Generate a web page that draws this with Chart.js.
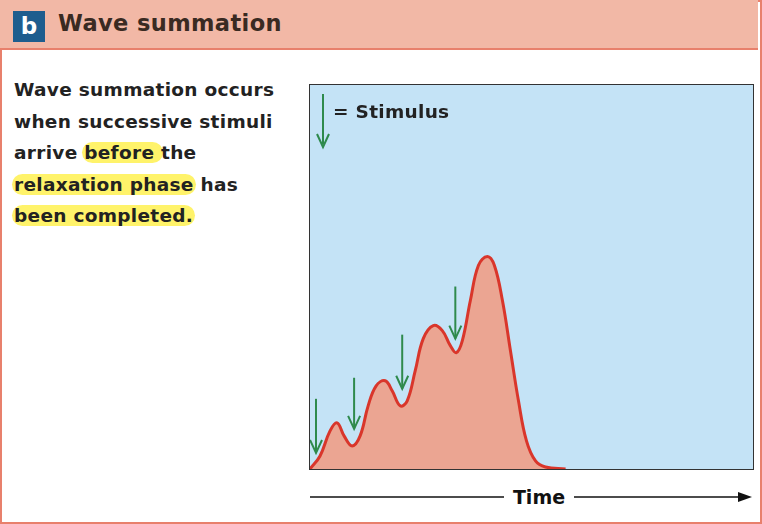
<!DOCTYPE html>
<html lang="en">
<head>
<meta charset="UTF-8">
<title>Wave summation</title>
<script src="https://cdn.jsdelivr.net/npm/chart.js"></script>
<style>
  body { margin:0; width:762px; height:524px; overflow:hidden; background:#fff; font-family:"DejaVu Sans", Arial, sans-serif; }
  .frame { position:absolute; left:0; top:0; width:758px; height:520px; border:2px solid #e8806c; }
  .head { position:absolute; left:0; top:0; width:758px; height:48px; background:#f2b8a6; border-bottom:2px solid #e8806c; }
  .badge { position:absolute; left:13px; top:11px; width:32px; height:31px; background:#1e5d8e; color:#fff; font-weight:bold; font-size:23px; text-align:center; line-height:30px; }
  .title { position:absolute; left:58px; top:10px; font-weight:bold; font-size:22.5px; letter-spacing:0.4px; color:#3a2a22; }
  .text { position:absolute; left:14px; top:74px; font-weight:bold; font-size:18.5px; letter-spacing:0.3px; line-height:31.5px; color:#222; white-space:nowrap; }
  .hl { background:#fff36a; border-radius:12px; padding:0 2px; margin:0 -2px; }
  .plot { position:absolute; left:309px; top:84px; width:443px; height:384px; background:#c4e3f6; border:1.5px solid #333; }
  .legend { position:absolute; left:333px; top:101px; font-weight:bold; font-size:18.5px; letter-spacing:0.3px; color:#222; }
  .time { position:absolute; left:310px; top:484px; width:446px; height:26px; }
</style>
</head>
<body>
<div class="frame"></div>
<div class="head"><div class="badge">b</div><div class="title">Wave summation</div></div>
<div class="text">
  Wave summation occurs<br>
  when successive stimuli<br>
  arrive <span class="hl">before </span>the<br>
  <span class="hl">relaxation phase</span> has<br>
  <span class="hl">been completed.</span>
</div>
<div class="plot"><canvas id="chartOnda"></canvas></div>
<svg style="position:absolute;left:316px;top:94px" width="16" height="56">
  <line x1="7" y1="0" x2="7" y2="50" stroke="#2e8a4c" stroke-width="2"/>
  <path d="M1 40 L7 53 L13 40" fill="none" stroke="#2e8a4c" stroke-width="2"/>
</svg>
<div class="legend">= Stimulus</div>
<svg class="time" width="446" height="26">
  <line x1="0" y1="13" x2="194" y2="13" stroke="#111" stroke-width="1.5"/>
  <text x="229" y="20" font-family="DejaVu Sans, Arial" font-weight="bold" font-size="19" text-anchor="middle" fill="#111">Time</text>
  <line x1="264" y1="13" x2="436" y2="13" stroke="#111" stroke-width="1.5"/>
  <path d="M428 8 L442 13 L428 18 Z" fill="#111"/>
</svg>
<script>
  // Datos de la curva (tiempo, tensión)
  var tiempo  = [0,10,20,27,34,42,50,58,66,75,82,90,97,105,113,123,132,140,146,152,160,168,177,184,192,200,208,216,225,235,255];
  var tension = [0,13,38,46,33,23,33,63,83,88,78,63,68,98,130,143,138,123,116,128,168,203,212,203,168,118,68,28,8,2,0];
  // Estímulos: posición y extremos de cada flecha
  var estimuloX      = [6,44,92,145];
  var estimuloArriba = [70,91,134,182];
  var estimuloAbajo  = [16,40,80,130];

  var flechas = {
    id: 'flechas',
    afterDatasetsDraw: function(chart) {
      var ctx = chart.ctx, sx = chart.scales.x, sy = chart.scales.y;
      ctx.save();
      ctx.strokeStyle = '#2e8a4c'; ctx.lineWidth = 2;
      for (var i = 0; i < estimuloX.length; i++) {
        var x = sx.getPixelForValue(estimuloX[i]);
        var y1 = sy.getPixelForValue(estimuloArriba[i]);
        var y2 = sy.getPixelForValue(estimuloAbajo[i]);
        ctx.beginPath(); ctx.moveTo(x, y1); ctx.lineTo(x, y2); ctx.stroke();
        ctx.beginPath(); ctx.moveTo(x-6, y2-13); ctx.lineTo(x, y2); ctx.lineTo(x+6, y2-13); ctx.stroke();
      }
      ctx.restore();
    }
  };

  new Chart(document.getElementById('chartOnda').getContext('2d'), {
    type: 'line',
    data: {
      datasets: [{
        data: tiempo.map(function(t, i) { return {x: t, y: tension[i]}; }),
        borderColor: '#d9362b',
        backgroundColor: '#eba592',
        borderWidth: 3,
        fill: 'origin',
        tension: 0.4,
        pointRadius: 0
      }]
    },
    options: {
      responsive: true,
      maintainAspectRatio: false,
      animation: false,
      layout: { padding: 0 },
      plugins: { legend: { display: false }, tooltip: { enabled: false } },
      scales: {
        x: { type: 'linear', min: 0, max: 442, display: false },
        y: { min: 0, max: 383, display: false }
      }
    },
    plugins: [flechas]
  });
</script>
</body>
</html>
